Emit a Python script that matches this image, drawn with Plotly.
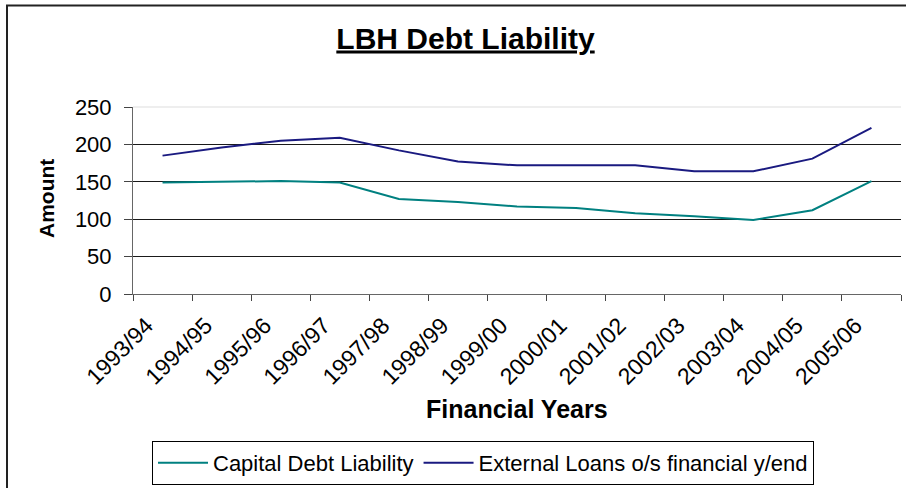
import plotly.graph_objects as go

categories = ["1993/94", "1994/95", "1995/96", "1996/97", "1997/98", "1998/99", "1999/00",
              "2000/01", "2001/02", "2002/03", "2003/04", "2004/05", "2005/06"]
capital_debt = [149, 150, 151, 149, 127, 123, 117, 115, 108, 104, 99, 112, 151]
external_loans = [185, 196, 205, 209, 192, 177, 172, 172, 172, 164, 164, 181, 222]
y_ticks = [0, 50, 100, 150, 200, 250]

FONT = "Liberation Sans, Arial, sans-serif"
W, H = 906, 488
L, R, T, B = 133, 5, 107, 194
pw, ph = W - L - R, H - T - B

def px2x(px):
    return (px - L) / pw

def px2y(py):
    return (H - B - py) / ph

fig = go.Figure()
fig.add_trace(go.Scatter(x=categories, y=capital_debt, mode="lines",
                         name="Capital Debt Liability",
                         line=dict(color="#008080", width=2)))
fig.add_trace(go.Scatter(x=categories, y=external_loans, mode="lines",
                         name="External Loans o/s financial y/end",
                         line=dict(color="#1a1a80", width=2)))

fig.update_layout(
    width=W, height=H,
    margin=dict(l=L, r=R, t=T, b=B, autoexpand=False),
    paper_bgcolor="white", plot_bgcolor="white",
    font=dict(family=FONT, color="black"),
    title=dict(text="<u><b>LBH Debt Liability</b></u>", font=dict(size=30, family=FONT, color="black"),
               x=465.5 / W, xref="container", xanchor="center",
               y=1 - 38 / H, yref="container", yanchor="middle"),
    showlegend=True,
    legend=dict(orientation="h", x=px2x(152), xanchor="left", y=px2y(441), yanchor="top",
                bordercolor="black", borderwidth=1, bgcolor="white",
                font=dict(size=22, family=FONT, color="black"),
                itemwidth=50, tracegroupgap=0),
)

fig.update_xaxes(type="category", range=[-0.5, len(categories) - 0.5], automargin=False,
                 showgrid=False, zeroline=False,
                 showline=True, linecolor="#666", linewidth=1,
                 ticks="outside", tickson="boundaries", ticklen=6, tickcolor="#444",
                 tickangle=-45, tickfont=dict(size=23, family=FONT, color="black"),
                 ticklabelshift=-16, ticklabelstandoff=8)
fig.update_yaxes(range=[0, 250], tickvals=y_ticks, automargin=False,
                 showgrid=True, gridcolor="#1a1a1a", gridwidth=1, zeroline=False,
                 showline=True, linecolor="#666", linewidth=1,
                 ticks="outside", ticklen=8, tickcolor="#444",
                 tickfont=dict(size=22, family=FONT, color="black"),
                 ticklabelstandoff=8)

fig.add_annotation(text="<b>Amount</b>", xref="paper", yref="paper",
                   x=px2x(46), y=px2y(199), textangle=-90, showarrow=False,
                   font=dict(size=21, family=FONT, color="black"),
                   xanchor="center", yanchor="middle")
fig.add_annotation(text="<b>Financial Years</b>", xref="paper", yref="paper",
                   x=px2x(517), y=px2y(409), showarrow=False,
                   font=dict(size=25, family=FONT, color="black"),
                   xanchor="center", yanchor="middle")

# light top border of plot area
fig.add_shape(type="line", xref="paper", yref="paper", x0=0, x1=1, y0=1, y1=1,
              line=dict(color="#dddddd", width=1), layer="above")
# outer chart border
fig.add_shape(type="rect", xref="paper", yref="paper",
              x0=px2x(7), x1=px2x(912), y0=px2y(5.5), y1=px2y(495),
              line=dict(color="#222", width=2), fillcolor="rgba(0,0,0,0)", layer="above")

fig.write_html("out.html", config={"displayModeBar": False},
               post_script="document.body.style.margin='0px';document.body.style.overflow='hidden';")
